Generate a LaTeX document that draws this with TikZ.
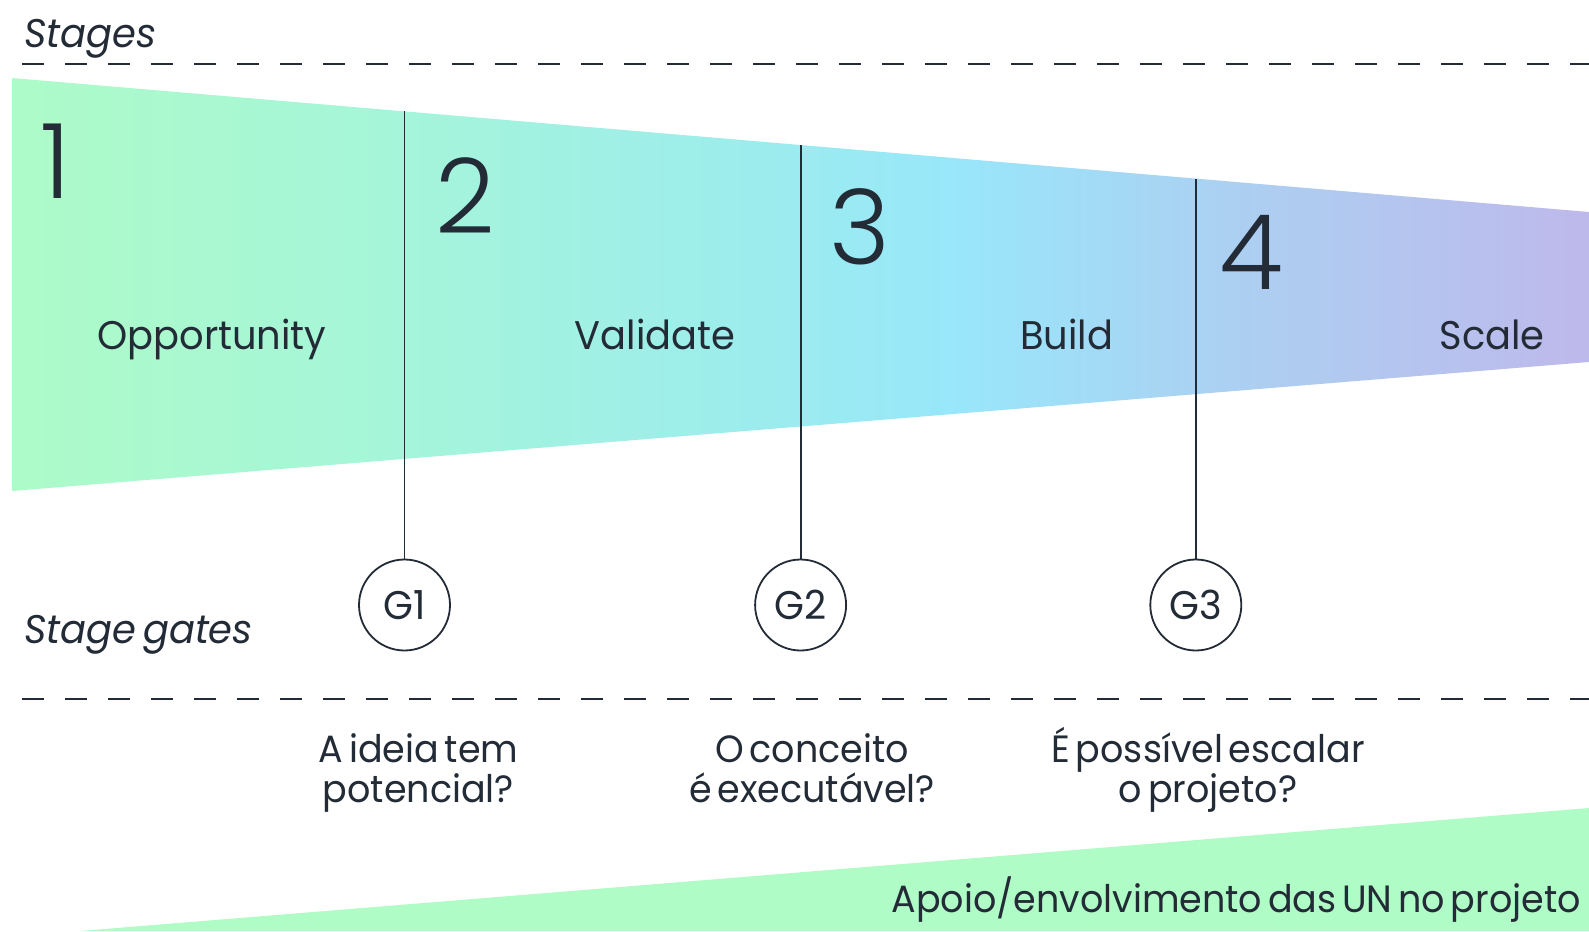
\documentclass[tikz,border=0pt]{standalone}
\usepackage{fontspec}
\setmainfont[FakeStretch=0.96, WordSpace=0.6]{Poppins}
\newfontfamily\numfont{Poppins Light}
\usetikzlibrary{calc}
\definecolor{ink}{HTML}{222B36}
\definecolor{fA}{RGB}{173,251,200}
\definecolor{fB}{RGB}{165,245,218}
\definecolor{fC}{RGB}{155,235,240}
\definecolor{fD}{RGB}{152,231,250}
\definecolor{fE}{RGB}{170,210,242}
\definecolor{fF}{RGB}{190,185,235}
\definecolor{wedge}{RGB}{176,252,198}
\pgfdeclarehorizontalshading{funnelshade}{100bp}{color(0bp)=(fA); color(25bp)=(fA); color(37.3bp)=(fB); color(50bp)=(fC); color(54.7bp)=(fD); color(62.7bp)=(fE); color(75bp)=(fF); color(100bp)=(fF)}
\tikzset{
  sep/.style={ink, line width=2.4pt, dash pattern=on 22pt off 21pt},
  gateline/.style={ink, line width=1.8pt},
  gate/.style={circle, draw=ink, line width=1.8pt, fill=white, minimum size=91pt, inner sep=0pt, font=\fontsize{40}{48}\selectfont, text=ink},
  bignum/.style={anchor=base west, inner sep=0pt, font=\numfont\fontsize{104}{120}\selectfont, text=ink},
  stagelbl/.style={anchor=base, inner sep=0pt, font=\fontsize{40}{48}\selectfont, text=ink},
  sect/.style={anchor=base west, inner sep=0pt, font=\itshape\fontsize{40}{48}\selectfont, text=ink},
  question/.style={align=center, inner sep=0pt, anchor=base, font=\fontsize{38}{40}\selectfont, text=ink},
}
\begin{document}
\begin{tikzpicture}[x=1pt,y=-1pt]
\useasboundingbox (0,0) rectangle (1589,931);
% funnel
\coordinate (ftl) at (12,78);
\coordinate (ftr) at (1589,212);
\coordinate (fbr) at (1589,362);
\coordinate (fbl) at (12,491);
\shade[shading=funnelshade] (ftl) -- (ftr) -- (fbr) -- (fbl) -- cycle;
% bottom wedge
\coordinate (wtr) at (1589,808);
\coordinate (wbr) at (1589,931);
\coordinate (wbl) at (80,931);
\fill[wedge] (wtr) -- (wbr) -- (wbl) -- cycle;
% separators
\coordinate (s1a) at (22,64); \coordinate (s1b) at (1589,64);
\coordinate (s2a) at (22,699); \coordinate (s2b) at (1589,699);
\draw[sep] (s1a) -- (s1b);
\draw[sep] (s2a) -- (s2b);
% section labels
\node[sect] (lstages) at (24,48) {Stages};
\node[sect] (lgates) at (24,643) {Stage gates};
% gates
\node[gate] (g1) at (404.5,605) {G1};
\node[gate] (g2) at (800.6,605) {G2};
\node[gate] (g3) at (1195.8,605) {G3};
\coordinate (t1) at (404.5,111.4);
\coordinate (t2) at (800.6,145);
\coordinate (t3) at (1195.8,178.6);
\draw[gateline] (t1) -- (g1.north);
\draw[gateline] (t2) -- (g2.north);
\draw[gateline] (t3) -- (g3.north);
% numbers
\node[bignum] (n1) at (40,198) {1};
\node[bignum] (n2) at (435,233) {2};
\node[bignum] (n3) at (829,264) {3};
\node[bignum] (n4) at (1219,289) {4};
% stage labels
\node[stagelbl] (l1) at (212,349) {Opportunity};
\node[stagelbl] (l2) at (655,349) {Validate};
\node[stagelbl] (l3) at (1066.6,349) {Build};
\node[stagelbl] (l4) at (1492,349) {Scale};
% questions
\node[question] (q1) at (418.5,802) {A ideia tem\\potencial?};
\node[question] (q2) at (812,802) {O conceito\\é executável?};
\node[question] (q3) at (1208,802) {É possível escalar\\o projeto?};
% support
\node[anchor=base east, inner sep=0pt, font=\fontsize{38}{46}\selectfont, text=ink] (sup) at (1581,912) {Apoio/envolvimento das UN no projeto};
\end{tikzpicture}
\end{document}
